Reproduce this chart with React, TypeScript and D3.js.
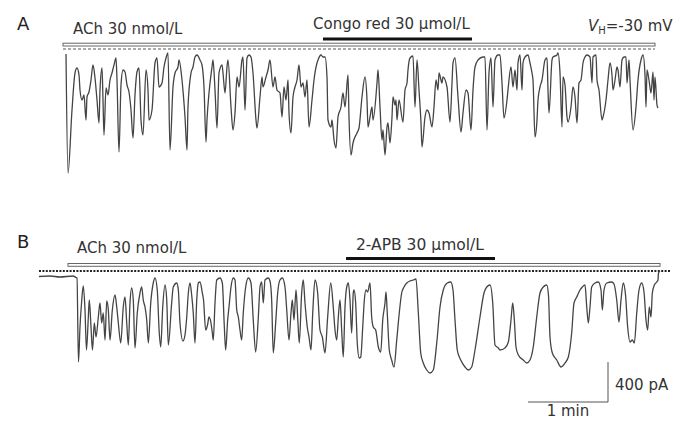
import React from "react";
import * as d3 from "d3";

// Panel A trace: [time (s), current (pA, relative to dashed zero line)]
const traceA: [number, number][] = [
  [0.75,-50],[2.25,-1240],[5.25,-610],[7.5,-240],[9,-190],[10.5,-260],[11.25,-410],[12.75,-510],[14.25,-460],[15.75,-710],[16.5,-480],[18,-430],[19.5,-310],[21,-160],[22.5,-290],[24,-510],[25.5,-740],[26.25,-410],[27.75,-190],[28.5,-510],[29.25,-860],[30.75,-390],[32.25,-460],[33.75,-310],[35.25,-240],[36.75,-160],[38.25,-90],[39,-310],[40.5,-1030],[42,-360],[43.5,-210],[45,-230],[46.5,-360],[48,-430],[49.5,-610],[51,-890],[52.5,-460],[54,-230],[55.5,-190],[57,-710],[58.5,-860],[60.75,-210],[62.25,-410],[63,-710],[65.25,-610],[67.5,-140],[69,-90],[70.5,-380],[72.75,-340],[74.25,-180],[75.75,-90],[77.25,-40],[78.75,-1010],[81,-380],[82.5,-240],[84.75,-180],[85.5,-110],[87.75,-310],[90,-680],[91.5,-1010],[92.25,-580],[94.5,-240],[96,-180],[97.5,-80],[99,-60],[101.25,-110],[102.75,-160],[104.25,-380],[105.75,-930],[106.5,-710],[108,-440],[110.25,-180],[111,-110],[112.5,-410],[114,-790],[115.5,-240],[117.75,-160],[118.5,-240],[120,-440],[121.5,-180],[122.25,-110],[124.5,-580],[126,-810],[127.5,-640],[129,-280],[130.5,-380],[132.75,-110],[133.5,-80],[135,-610],[136.5,-90],[138,-60],[139.5,-80],[141,-240],[143.25,-710],[144,-790],[146.25,-480],[147.75,-280],[148.5,-380],[150.75,-280],[152.25,-210],[153.75,-110],[156,-380],[157.5,-280],[159,-410],[161.25,-440],[162.75,-680],[164.25,-380],[165.75,-510],[167.25,-310],[168,-640],[169.5,-840],[171,-480],[172.5,-380],[174,-310],[175.5,-160],[177,-380],[178.5,-340],[180,-480],[181.5,-310],[183,-780],[185.25,-510],[186.75,-310],[189,-140],[189.75,-110],[192,-60],[193.5,-80],[195,-80],[196.5,-280],[197.25,-710],[199.5,-780],[200.25,-710],[201.75,-910],[203.25,-990],[204.75,-680],[207,-580],[208.5,-440],[210,-580],[212.25,-260],[213,-680],[214.5,-1060],[216,-940],[219,-840],[220.5,-790],[222.75,-480],[225,-280],[226.5,-510],[227.25,-780],[228.75,-680],[230.25,-580],[231,-710],[234,-340],[234.75,-210],[236.25,-580],[237.75,-910],[238.5,-810],[240,-1060],[241.5,-780],[242.25,-740],[243.75,-940],[245.25,-680],[246,-480],[247.5,-560],[248.25,-510],[249,-710],[250.5,-510],[253.5,-730],[255,-410],[256.5,-340],[257.25,-210],[258.75,-90],[261,-70],[262.5,-580],[264,-110],[265.5,-410],[267,-740],[267.75,-980],[270,-680],[271.5,-610],[273,-640],[275.25,-780],[276.75,-580],[278.25,-310],[279.75,-410],[280.5,-240],[282.75,-340],[283.5,-280],[286.5,-380],[288.75,-730],[290.25,-340],[291,-140],[292.5,-90],[294.75,-480],[297,-830],[298.5,-640],[300.75,-410],[302.25,-440],[304.5,-810],[306,-410],[307.5,-180],[309.75,-110],[313.5,-80],[315,-80],[316.5,-810],[318,-240],[319.5,-90],[321,-580],[322.5,-110],[324.75,-60],[326.25,-60],[327.75,-340],[329.25,-690],[331.5,-510],[332.25,-410],[334.5,-180],[336,-380],[337.5,-210],[339,-410],[339.75,-140],[341.25,-60],[342.75,-410],[343.5,-140],[345,-80],[347.25,-60],[348.75,-140],[350.25,-240],[351,-310],[352.5,-880],[354,-710],[354.75,-510],[356.25,-380],[357.75,-310],[360,-110],[361.5,-90],[362.25,-410],[363,-640],[365.25,-110],[366,-80],[369,-60],[369.75,-40],[371.25,-240],[372.75,-780],[373.5,-280],[375,-360],[376.5,-680],[377.25,-730],[379.5,-580],[381,-380],[382.5,-480],[384,-740],[385.5,-340],[387,-310],[388.5,-140],[390,-80],[391.5,-60],[393.75,-80],[395.25,-340],[396,-80],[398.25,-60],[399,-310],[400.5,-410],[402.75,-710],[403.5,-680],[405.75,-510],[407.25,-310],[408.75,-140],[410.25,-260],[411,-410],[412.5,-310],[414,-180],[414.75,-210],[416.25,-380],[417.75,-110],[419.25,-80],[420.75,-80],[421.5,-340],[423,-110],[423.75,-310],[426,-810],[428.25,-580],[429.75,-310],[432,-110],[433.5,-60],[435,-260],[435.75,-580],[436.5,-210],[438,-310],[439.5,-440],[441,-230],[441.75,-510],[442.5,-280],[444,-560],[444.75,-590]
];

// Panel B trace: [time (s), current (pA, relative to dotted zero line)]
const traceB: [number, number][] = [
  [0,-55],[8.25,-50],[15.75,-60],[25.5,-50],[27.75,-65],[28.5,-70],[29.6,-910],[30.75,-560],[31.9,-320],[33.2,-150],[34.5,-390],[35.6,-790],[37,-460],[37.7,-290],[39,-560],[40.1,-790],[41.5,-520],[42.75,-660],[44.5,-460],[45.75,-320],[47,-520],[48.2,-420],[49.5,-690],[50.8,-300],[52,-390],[53.25,-690],[55,-390],[57,-240],[58.3,-360],[59.5,-520],[61.3,-720],[63.2,-360],[64.5,-260],[65.8,-520],[67,-740],[68.25,-320],[69.5,-170],[70.7,-290],[72,-770],[73.7,-420],[75.75,-220],[77,-160],[78.2,-290],[79.5,-360],[80.8,-490],[82,-720],[83.8,-320],[85.7,-120],[87,-70],[88.7,-190],[90.2,-620],[91.3,-760],[92.8,-360],[94.5,-140],[95.8,-290],[97,-740],[99.5,-320],[100.7,-160],[103.3,-120],[104.5,-190],[105.75,-520],[108,-700],[109.5,-640],[110.8,-460],[112,-220],[113.25,-120],[114.5,-240],[115.7,-420],[117,-720],[118.3,-290],[119.5,-120],[120.75,-110],[122.5,-220],[123.4,-290],[125,-590],[126.4,-540],[127.5,-460],[129,-520],[130,-620],[130.7,-690],[132,-320],[133.3,-90],[135.75,-70],[137.5,-120],[139,-560],[140,-790],[141.5,-490],[142.5,-360],[144,-160],[145.7,-70],[147,-90],[148.3,-390],[149.5,-460],[150.75,-590],[152,-690],[153.2,-420],[155,-160],[157,-70],[159,-120],[160.7,-490],[162.5,-810],[164.5,-460],[165.75,-160],[167,-110],[168.2,-320],[169.5,-90],[172,-70],[173.25,-100],[174.5,-290],[175.7,-820],[177.5,-520],[179,-220],[180.75,-90],[182.5,-70],[184.5,-160],[185.8,-390],[187.5,-690],[189,-420],[190,-290],[191.25,-490],[192.75,-190],[194,-460],[195.2,-720],[197,-220],[198.2,-90],[199.5,-320],[201.2,-560],[202.5,-660],[204,-790],[205.3,-420],[207,-90],[209,-220],[210.75,-590],[212.5,-660],[214.5,-820],[216.5,-460],[218.8,-120],[220.7,-360],[222,-590],[223.3,-690],[224.5,-460],[225.75,-290],[227,-590],[228.2,-860],[229.5,-360],[230.8,-160],[232,-120],[233.25,-290],[234.5,-620],[235.7,-220],[236.25,-190],[237.5,-320],[238.7,-720],[240.2,-870],[241.3,-860],[242.8,-560],[244,-290],[245.25,-190],[246.5,-210],[248.25,-120],[249.5,-460],[250.7,-560],[252.5,-590],[254.5,-760],[256.3,-810],[257.8,-490],[259.5,-320],[260.25,-210],[261.2,-420],[262.7,-790],[264.5,-890],[266.25,-960],[268.3,-690],[270.2,-420],[272,-220],[273.75,-160],[275.8,-120],[278.25,-100],[280.7,-90],[282.75,-80],[284.5,-420],[286.3,-820],[288.2,-920],[290.8,-990],[293.25,-1020],[295.7,-990],[298.3,-720],[300.75,-360],[303.2,-190],[306.2,-120],[308.8,-110],[310.5,-190],[312,-490],[313.7,-790],[316.3,-890],[319.5,-960],[322,-990],[324.5,-960],[327,-790],[330.75,-460],[333.75,-220],[335.8,-160],[338.25,-140],[340.3,-320],[342,-740],[344.5,-770],[345.75,-790],[349.5,-770],[352,-710],[354,-490],[355.3,-320],[356.5,-490],[357.75,-760],[359.5,-840],[363.2,-890],[365.8,-920],[368.25,-890],[370.7,-760],[373.3,-460],[375.75,-220],[378.2,-160],[380.8,-140],[382.1,-240],[383.25,-660],[385,-820],[388.3,-890],[391.5,-960],[394.5,-920],[397,-860],[399.5,-620],[401.25,-320],[403.3,-260],[405.75,-190],[407.5,-160],[409.5,-140],[410.8,-360],[412,-520],[413.25,-360],[414.5,-160],[417,-120],[419.5,-110],[421.5,-190],[422.5,-390],[423.75,-190],[425.8,-120],[429.5,-110],[431.25,-130],[433.3,-290],[435,-510],[436.5,-290],[438.2,-120],[439.9,-240],[441.5,-560],[443.25,-710],[445,-690],[446.5,-720],[448.3,-420],[450,-190],[452,-120],[453.75,-210],[455.25,-490],[456.5,-590],[457.7,-360],[459,-460],[460,-220],[461.5,-140],[463.3,-110],[464.25,-90],[464.6,-20],[465.75,0]
];

// Drug application periods (s)
const achA: [number, number] = [-1.5, 442.5];
const congoA: [number, number] = [193.5, 305.25];
const achB: [number, number] = [21.75, 465.75];
const apbB: [number, number] = [230.25, 342];
const zeroB: [number, number] = [0, 473.25];

// Scale bar: 1 min, 400 pA
const scaleTime: [number, number] = [366.75, 426.75];
const scaleCurrent: [number, number] = [-910, -1310];

const FONT = "'DejaVu Sans', 'Liberation Sans', sans-serif";
const PXS = 4 / 3; // px per second
const PXPA = 0.1; // px per pA

export default function App() {
  const xA = d3.scaleLinear().domain([0, 100]).range([65, 65 + 100 * PXS]);
  const yA = d3.scaleLinear().domain([0, -1000]).range([49, 49 + 1000 * PXPA]);
  const xB = d3.scaleLinear().domain([0, 100]).range([39, 39 + 100 * PXS]);
  const yB = d3.scaleLinear().domain([0, -1000]).range([271, 271 + 1000 * PXPA]);

  const lineA = d3.line<[number, number]>().x(d => xA(d[0])).y(d => yA(d[1])).curve(d3.curveMonotoneX);
  const lineB = d3.line<[number, number]>().x(d => xB(d[0])).y(d => yB(d[1])).curve(d3.curveMonotoneX);

  const textFill = "#333";

  return (
    <svg width={674} height={421} style={{ position: "absolute", left: 0, top: 0, background: "#fff" }} fontFamily={FONT}>
      <rect x={0} y={0} width={674} height={421} fill="#fff" />
      {/* Panel A */}
      <text x={17} y={30} fontSize={18} fill="#222">A</text>
      <text x={73} y={34} fontSize={15} fill={textFill}>ACh 30 nmol/L</text>
      <text x={313} y={29} fontSize={15} fill={textFill}>Congo red 30 μmol/L</text>
      <text x={588} y={31} fontSize={15} fill={textFill}>
        <tspan fontStyle="italic">V</tspan>
        <tspan fontSize={10} dy={3}>H</tspan>
        <tspan dy={-3}>=-30 mV</tspan>
      </text>
      <rect x={xA(congoA[0])} y={37.5} width={xA(congoA[1]) - xA(congoA[0])} height={3} fill="#111" />
      <rect x={xA(achA[0])} y={43.2} width={xA(achA[1]) - xA(achA[0])} height={2.8} fill="#fff" stroke="#666" strokeWidth={1} />
      <line x1={xA(achA[0])} x2={xA(achA[1])} y1={yA(0)} y2={yA(0)} stroke="#555" strokeWidth={1} strokeDasharray="3,2" />
      <path d={lineA(traceA) || ""} fill="none" stroke="#444" strokeWidth={1.3} strokeLinejoin="round" />

      {/* Panel B */}
      <text x={17} y={248} fontSize={18} fill="#222">B</text>
      <text x={77} y={253} fontSize={15} fill={textFill}>ACh 30 nmol/L</text>
      <text x={356} y={250} fontSize={15.5} fill={textFill}>2-APB 30 μmol/L</text>
      <rect x={xB(apbB[0])} y={257} width={xB(apbB[1]) - xB(apbB[0])} height={3} fill="#111" />
      <rect x={xB(achB[0])} y={263.5} width={xB(achB[1]) - xB(achB[0])} height={2.8} fill="#fff" stroke="#666" strokeWidth={1} />
      <line x1={xB(zeroB[0])} x2={xB(zeroB[1])} y1={yB(0)} y2={yB(0)} stroke="#222" strokeWidth={2} strokeDasharray="2,1.4" />
      <path d={lineB(traceB) || ""} fill="none" stroke="#444" strokeWidth={1.3} strokeLinejoin="round" />

      {/* Scale bar */}
      <path
        d={`M${xB(scaleTime[0])},${yB(scaleCurrent[1])}H${xB(scaleTime[1])}V${yB(scaleCurrent[0])}`}
        fill="none" stroke="#555" strokeWidth={1}
      />
      <text x={xB(scaleTime[1]) + 7} y={390} fontSize={15} fill={textFill}>400 pA</text>
      <text x={(xB(scaleTime[0]) + xB(scaleTime[1])) / 2} y={416} fontSize={15} fill={textFill} textAnchor="middle">1 min</text>
    </svg>
  );
}
